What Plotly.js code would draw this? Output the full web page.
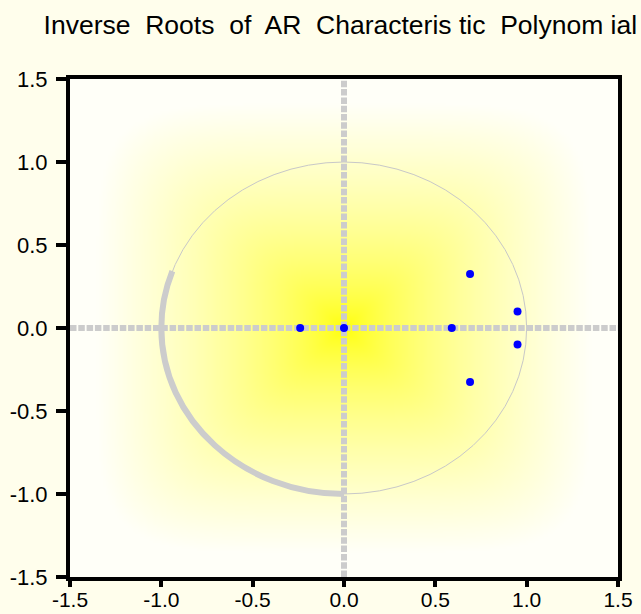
<!DOCTYPE html>
<html>
<head>
<meta charset="utf-8">
<script src="https://cdn.plot.ly/plotly-3.0.1.min.js"></script>
<style>html,body{margin:0;padding:0;background:#fffeec;}#chart{width:641px;height:614px;}</style>
</head>
<body>
<div id="chart"></div>
<script>
// ---- data ----
var rootsRe = [0.0, -0.24, 0.59, 0.69, 0.69, 0.95, 0.95];
var rootsIm = [0.0, 0.0, 0.0, 0.325, -0.325, 0.10, -0.10];
var tickVals = [-1.5, -1.0, -0.5, 0.0, 0.5, 1.0, 1.5];
var tickText = ['-1.5', '-1.0', '-0.5', '0.0', '0.5', '1.0', '1.5'];
var titleText = 'Inverse\u00a0 Roots\u00a0 of\u00a0 AR\u00a0 Characteris tic\u00a0 Polynom ial';

// ---- background gradient (decoration) ----
function makeGradient() {
  var n = 240;
  var c = document.createElement('canvas');
  c.width = n; c.height = n;
  var ctx = c.getContext('2d');
  var img = ctx.createImageData(n, n);
  var p = 5.5;
  for (var j = 0; j < n; j++) {
    for (var i = 0; i < n; i++) {
      var dx = Math.abs((i + 0.5) / n * 2 - 1);
      var dy = Math.abs((j + 0.5) / n * 2 - 1);
      var t = Math.pow(Math.pow(dx, p) + Math.pow(dy, p), 1 / p) / 0.9;
      var w = Math.min(1, Math.pow(Math.min(t, 1), 0.62));
      var k = (j * n + i) * 4;
      img.data[k] = 255;
      img.data[k + 1] = 255;
      img.data[k + 2] = Math.round(248 * w);
      img.data[k + 3] = 255;
    }
  }
  ctx.putImageData(img, 0, 0);
  return c.toDataURL('image/png');
}

var grey = '#cccccc';
var traces = [
  {x: [-1.5, 1.5], y: [0, 0], mode: 'lines', line: {color: grey, width: 6, dash: '6.5px,1.8px'}, hoverinfo: 'skip', showlegend: false, cliponaxis: false},
  {x: [0, 0], y: [-1.5, 1.5], mode: 'lines', line: {color: grey, width: 6, dash: '6.5px,1.8px'}, hoverinfo: 'skip', showlegend: false, cliponaxis: false},
  {x: rootsRe, y: rootsIm, mode: 'markers', marker: {color: '#0000ff', size: 8}, showlegend: false}
];

// unit circle arc, bezier approximations
var k20 = 4 / 3 * Math.tan(Math.PI / 36);
var a0 = 160 * Math.PI / 180;
var p0 = [Math.cos(a0), Math.sin(a0)];
var p1 = [p0[0] - k20 * Math.sin(a0), p0[1] + k20 * Math.cos(a0)];
var k90 = 0.5523;
var arcPath = 'M ' + p0[0] + ',' + p0[1] +
  ' C ' + p1[0] + ',' + p1[1] + ' -1,' + k20 + ' -1,0' +
  ' C -1,' + (-k90) + ' ' + (-k90) + ',-1 0,-1';

var axisBase = {
  range: [-1.5, 1.5], tickvals: tickVals, ticktext: tickText,
  showline: true, linewidth: 4, linecolor: '#000000', mirror: true,
  ticks: 'outside', tickwidth: 4, tickcolor: '#000000',
  showgrid: false, zeroline: false, fixedrange: true,
  tickfont: {family: 'Liberation Sans, Arial, sans-serif', size: 22, color: '#000000'}
};

var layout = {
  width: 641, height: 614,
  margin: {l: 70, r: 23, t: 79, b: 37},
  paper_bgcolor: '#fffeec',
  plot_bgcolor: '#ffffff',
  title: {text: titleText, xref: 'container', x: 0.531, xanchor: 'center', yref: 'container', y: 0.96, yanchor: 'middle',
          font: {family: 'Liberation Sans, Arial, sans-serif', size: 26.5, color: '#000000'}},
  xaxis: Object.assign({}, axisBase, {ticklen: 6, ticklabelstandoff: -5,
          tickfont: {family: 'Liberation Sans, Arial, sans-serif', size: 21, color: '#000000'}}),
  yaxis: Object.assign({}, axisBase, {ticklen: 10, ticklabelstandoff: 4}),
  images: [{source: makeGradient(), xref: 'x', yref: 'y', x: -1.5, y: 1.5, sizex: 3, sizey: 3,
            sizing: 'stretch', layer: 'below', xanchor: 'left', yanchor: 'top'}],
  shapes: [
    {type: 'circle', xref: 'x', yref: 'y', x0: -1, x1: 1, y0: -1, y1: 1, line: {color: '#c8c8c8', width: 1}, layer: 'between'},
    {type: 'path', xref: 'x', yref: 'y', path: arcPath, line: {color: grey, width: 6}, layer: 'between'}
  ],
  showlegend: false
};

Plotly.newPlot('chart', traces, layout, {displayModeBar: false, staticPlot: true});
</script>
</body>
</html>
